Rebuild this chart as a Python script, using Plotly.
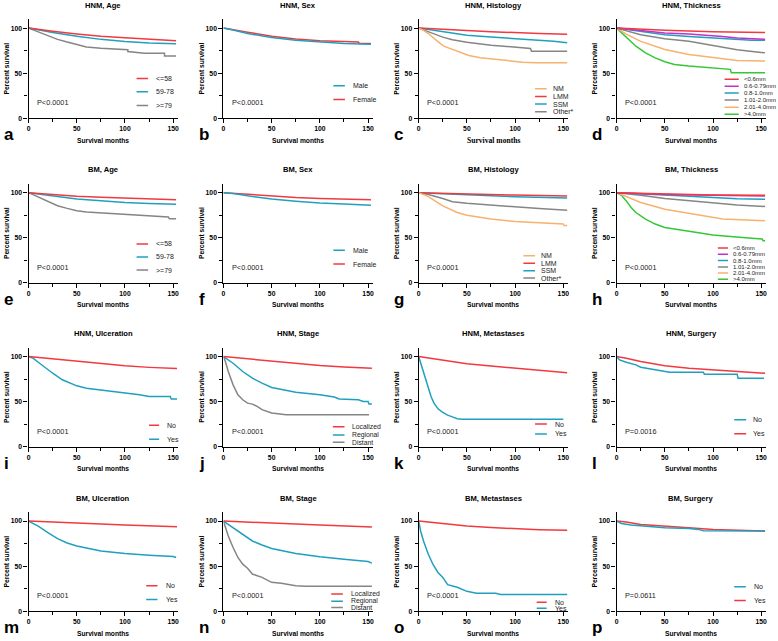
import plotly.graph_objects as go

# ---------------- data ----------------
RED = "#F2393F"
TEAL = "#1FA0BE"
GRAY = "#858585"
ORANGE = "#F6B26E"
MAGENTA = "#C62FC9"
GREEN = "#35C735"

# a: HNM, Age
a_le58_t = [0, 10, 25, 50, 75, 100, 125, 140, 153]
a_le58_s = [100, 98.5, 96.5, 93.6, 91, 89.3, 88, 87, 86]
a_5978_t = [0, 10, 25, 50, 75, 100, 125, 153]
a_5978_s = [100, 98, 95, 91, 87.5, 85.2, 83.5, 82.6]
a_ge79_t = [0, 10, 20, 30, 40, 50, 60, 75, 90, 100, 103, 103, 115, 120, 141, 141, 153]
a_ge79_s = [100, 96, 92, 87.5, 84.5, 81.5, 79, 77.5, 76.5, 76, 76, 74, 73, 72, 72, 69, 69]
# b: HNM, Sex
b_male_t = [0, 10, 25, 50, 75, 100, 125, 153]
b_male_s = [100, 98, 94, 89.5, 86.5, 84.5, 83, 82]
b_female_t = [0, 10, 25, 50, 75, 100, 125, 140, 141, 153]
b_female_s = [100, 98.5, 95.5, 91, 88, 86, 85, 84.5, 83, 83]
# c: HNM, Histology
c_nm_t = [0, 5, 10, 15, 20, 26, 33, 40, 52, 64, 81, 95, 108, 122, 154]
c_nm_s = [100, 97.5, 94, 89, 85, 80, 77, 74.5, 69.6, 67, 65.2, 63.3, 62.2, 61.5, 61.5]
c_lmm_t = [0, 25, 50, 75, 100, 125, 154]
c_lmm_s = [100, 99, 97.4, 96, 94.8, 94, 93.3]
c_ssm_t = [0, 10, 25, 50, 75, 100, 125, 140, 154]
c_ssm_s = [100, 98.5, 96, 92.2, 90, 88.5, 86.7, 85.5, 83.7]
c_oth_t = [0, 10, 25, 35, 50, 75, 100, 116, 117, 154]
c_oth_s = [100, 96, 90, 87, 84.4, 81, 78.5, 77.4, 74.4, 74.4]
# d: HNM, Thickness
d_t1_t = [0, 50, 100, 150, 154]
d_t1_s = [100, 97.5, 96, 95.2, 95.2]
d_t2_t = [0, 25, 50, 75, 100, 110, 125, 150, 154]
d_t2_s = [100, 97.5, 94.5, 93.5, 92, 90.8, 89, 87.5, 87.5]
d_t3_t = [0, 25, 50, 75, 100, 125, 140, 154]
d_t3_s = [100, 96.5, 92.7, 90.8, 89, 87.9, 86.4, 86.4]
d_t4_t = [0, 10, 25, 50, 75, 100, 115, 125, 150, 154]
d_t4_s = [100, 97, 92.7, 88.3, 85.3, 80.6, 78, 76, 73, 72.5]
d_t5_t = [0, 10, 25, 40, 50, 75, 100, 125, 154]
d_t5_s = [100, 93.4, 85.3, 79.9, 76.2, 70.7, 67, 64.1, 63.4]
d_t6_t = [0, 5, 10, 20, 30, 40, 50, 60, 75, 100, 118, 119, 154]
d_t6_s = [100, 95, 89, 79.9, 72.5, 67, 62.6, 59.7, 57.9, 56, 54.2, 50.5, 50.5]
# e: BM, Age
e_le58_t = [0, 25, 50, 75, 100, 125, 153]
e_le58_s = [100, 98, 96, 95, 94, 93, 92]
e_5978_t = [0, 10, 25, 50, 75, 100, 125, 153]
e_5978_s = [100, 98.5, 96, 93, 91, 89, 88, 87]
e_ge79_t = [0, 10, 20, 30, 40, 50, 60, 75, 100, 125, 145, 146, 153]
e_ge79_s = [100, 95, 90, 85.5, 82.5, 80, 78.5, 77.5, 76, 74, 73, 71, 71]
# f: BM, Sex
f_male_t = [0, 10, 25, 50, 75, 100, 125, 153]
f_male_s = [100, 99, 96.5, 93, 90.5, 88.5, 87.5, 86]
f_female_t = [0, 25, 50, 75, 100, 125, 153]
f_female_s = [100, 98, 96, 94.5, 93.5, 92.5, 92]
# g: BM, Histology
g_nm_t = [0, 10, 25, 40, 50, 75, 100, 125, 150, 151, 154]
g_nm_s = [100, 95.6, 85.3, 77.9, 75, 70.6, 68, 66.2, 65.1, 63.5, 63.5]
g_lmm_t = [0, 50, 100, 154]
g_lmm_s = [100, 98.5, 97.3, 96.3]
g_ssm_t = [0, 50, 100, 154]
g_ssm_s = [100, 97.5, 95.5, 94.1]
g_oth_t = [0, 10, 25, 35, 50, 75, 100, 125, 154]
g_oth_s = [100, 98, 93.4, 90, 88.2, 86, 84.2, 82.4, 80.5]
# h: BM, Thickness
h_t1_t = [0, 50, 100, 154]
h_t1_s = [100, 98.5, 97.5, 97]
h_t2_t = [0, 50, 100, 154]
h_t2_s = [100, 98, 97, 96.3]
h_t3_t = [0, 25, 50, 75, 100, 125, 154]
h_t3_s = [100, 99, 97.4, 96, 94.5, 93.3, 92.6]
h_t4_t = [0, 10, 25, 50, 75, 100, 125, 154]
h_t4_s = [100, 99, 97, 93.4, 90.8, 88.2, 86.4, 84.6]
h_t5_t = [0, 10, 25, 50, 75, 100, 110, 154]
h_t5_s = [100, 95.6, 89, 81.6, 77.2, 72.4, 70.6, 68.8]
h_t6_t = [0, 5, 10, 15, 20, 30, 40, 50, 75, 100, 115, 125, 140, 151, 152, 154]
h_t6_s = [100, 97, 90.8, 83.5, 77.9, 70.6, 65.1, 61.4, 57, 52.9, 51.5, 50.4, 49.3, 48.5, 46.7, 46.7]
# i: HNM, Ulceration
i_no_t = [0, 25, 50, 75, 100, 125, 154]
i_no_s = [100, 97.5, 94.5, 92, 89.7, 88, 86.7]
i_yes_t = [0, 5, 10, 20, 25, 35, 50, 60, 75, 100, 115, 125, 147, 148, 154]
i_yes_s = [100, 98, 93.7, 85.2, 81.5, 74.2, 67.5, 64.9, 63.1, 60.1, 57.6, 55.7, 55.7, 52.8, 52.8]
# j: HNM, Stage
j_loc_t = [0, 25, 50, 75, 100, 125, 154]
j_loc_s = [100, 97.5, 94.5, 92, 90, 88.5, 87.1]
j_reg_t = [0, 10, 20, 30, 40, 50, 75, 100, 115, 120, 140, 145, 150, 151, 154]
j_reg_s = [100, 92.6, 83.4, 76, 70.5, 65.7, 60.5, 57.6, 55, 52.8, 52, 50.2, 50.2, 47.2, 47.2]
j_dis_t = [0, 2, 5, 10, 15, 20, 25, 30, 35, 40, 50, 65, 151]
j_dis_s = [100, 94.5, 83.4, 68.6, 57.6, 52, 48.3, 47.2, 44.6, 41, 37.3, 35.4, 35.4]
# k: HNM, Metastases
k_no_t = [0, 25, 50, 75, 100, 125, 154]
k_no_s = [100, 96, 92, 89.5, 87, 84.5, 82]
k_yes_t = [0, 3, 6, 10, 13, 16, 20, 25, 30, 35, 40, 45, 150]
k_yes_s = [100, 90, 78, 65, 55, 48, 42, 38, 35, 33, 31, 30.5, 30.5]
# l: HNM, Surgery
l_no_t = [0, 3, 10, 20, 25, 35, 45, 55, 90, 91, 125, 126, 153]
l_no_s = [100, 96.3, 93.7, 90.8, 88.2, 86.3, 84.5, 82.7, 82.7, 80.4, 80.4, 76, 76]
l_yes_t = [0, 10, 25, 50, 75, 100, 125, 154]
l_yes_s = [100, 98.2, 94.5, 89.7, 87.1, 85.2, 83.4, 81.5]
# m: BM, Ulceration
m_no_t = [0, 50, 100, 154]
m_no_s = [100, 97.4, 95.6, 93.8]
m_yes_t = [0, 10, 20, 30, 40, 50, 75, 100, 125, 150, 153]
m_yes_s = [100, 94.5, 87.1, 80.5, 75.7, 72.4, 66.9, 64, 62.1, 60.7, 59.6]
# n: BM, Stage
n_loc_t = [0, 50, 100, 154]
n_loc_s = [100, 97.4, 95.6, 93.4]
n_reg_t = [0, 10, 20, 30, 40, 50, 75, 100, 125, 150, 154]
n_reg_s = [100, 92.6, 84.6, 77.9, 73.5, 69.5, 64, 60.3, 57.7, 55.1, 53.3]
n_dis_t = [0, 5, 10, 15, 20, 25, 30, 40, 50, 60, 75, 85, 154]
n_dis_s = [100, 83.5, 70.6, 59.6, 52.2, 47.7, 41.2, 37.5, 32, 30.9, 28.3, 27.6, 27.6]
# o: BM, Metastases
o_no_t = [0, 25, 50, 75, 100, 125, 154]
o_no_s = [100, 97, 94.5, 92.8, 91.5, 90.5, 89.7]
o_yes_t = [0, 2, 5, 8, 10, 15, 20, 25, 30, 40, 50, 60, 80, 85, 154]
o_yes_s = [100, 89, 77.9, 68.8, 63.2, 51.5, 43, 37.5, 29.4, 26.5, 22, 19.9, 19.9, 18.4, 18.4]
# p: BM, Surgery
p_no_t = [0, 5, 15, 40, 50, 75, 85, 90, 154]
p_no_s = [100, 97.4, 95.6, 93.4, 92.6, 91.9, 90.8, 89.3, 89]
p_yes_t = [0, 10, 25, 50, 75, 100, 125, 154]
p_yes_s = [100, 98.9, 96.3, 94.1, 92.6, 90.8, 90.1, 89]

letters = list("abcdefghijklmnop")
titles = ["HNM, Age", "HNM, Sex", "HNM, Histology", "HNM, Thickness",
          "BM, Age", "BM, Sex", "BM, Histology", "BM, Thickness",
          "HNM, Ulceration", "HNM, Stage", "HNM, Metastases", "HNM, Surgery",
          "BM, Ulceration", "BM, Stage", "BM, Metastases", "BM, Surgery"]
pvalues = ["P&lt;0.0001"] * 11 + ["P=0.0016"] + ["P&lt;0.0001"] * 3 + ["P=0.0611"]

age_lab = ["&lt;=58", "59-78", "&gt;=79"]
sex_lab = ["Male", "Female"]
hist_lab = ["NM", "LMM", "SSM", "Other*"]
thick_lab = ["&lt;0.6mm", "0.6-0.79mm", "0.8-1.0mm", "1.01-2.0mm", "2.01-4.0mm", "&gt;4.0mm"]
ny_lab = ["No", "Yes"]
stage_lab = ["Localized", "Regional", "Distant"]

# series per panel, in legend order: (label, colour, t, s)
series = [
    [(age_lab[0], RED, a_le58_t, a_le58_s), (age_lab[1], TEAL, a_5978_t, a_5978_s), (age_lab[2], GRAY, a_ge79_t, a_ge79_s)],
    [(sex_lab[0], TEAL, b_male_t, b_male_s), (sex_lab[1], RED, b_female_t, b_female_s)],
    [(hist_lab[0], ORANGE, c_nm_t, c_nm_s), (hist_lab[1], RED, c_lmm_t, c_lmm_s), (hist_lab[2], TEAL, c_ssm_t, c_ssm_s), (hist_lab[3], GRAY, c_oth_t, c_oth_s)],
    [(thick_lab[0], RED, d_t1_t, d_t1_s), (thick_lab[1], MAGENTA, d_t2_t, d_t2_s), (thick_lab[2], TEAL, d_t3_t, d_t3_s),
     (thick_lab[3], GRAY, d_t4_t, d_t4_s), (thick_lab[4], ORANGE, d_t5_t, d_t5_s), (thick_lab[5], GREEN, d_t6_t, d_t6_s)],
    [(age_lab[0], RED, e_le58_t, e_le58_s), (age_lab[1], TEAL, e_5978_t, e_5978_s), (age_lab[2], GRAY, e_ge79_t, e_ge79_s)],
    [(sex_lab[0], TEAL, f_male_t, f_male_s), (sex_lab[1], RED, f_female_t, f_female_s)],
    [(hist_lab[0], ORANGE, g_nm_t, g_nm_s), (hist_lab[1], RED, g_lmm_t, g_lmm_s), (hist_lab[2], TEAL, g_ssm_t, g_ssm_s), (hist_lab[3], GRAY, g_oth_t, g_oth_s)],
    [(thick_lab[0], RED, h_t1_t, h_t1_s), (thick_lab[1], MAGENTA, h_t2_t, h_t2_s), (thick_lab[2], TEAL, h_t3_t, h_t3_s),
     (thick_lab[3], GRAY, h_t4_t, h_t4_s), (thick_lab[4], ORANGE, h_t5_t, h_t5_s), (thick_lab[5], GREEN, h_t6_t, h_t6_s)],
    [(ny_lab[0], RED, i_no_t, i_no_s), (ny_lab[1], TEAL, i_yes_t, i_yes_s)],
    [(stage_lab[0], RED, j_loc_t, j_loc_s), (stage_lab[1], TEAL, j_reg_t, j_reg_s), (stage_lab[2], GRAY, j_dis_t, j_dis_s)],
    [(ny_lab[0], RED, k_no_t, k_no_s), (ny_lab[1], TEAL, k_yes_t, k_yes_s)],
    [(ny_lab[0], TEAL, l_no_t, l_no_s), (ny_lab[1], RED, l_yes_t, l_yes_s)],
    [(ny_lab[0], RED, m_no_t, m_no_s), (ny_lab[1], TEAL, m_yes_t, m_yes_s)],
    [(stage_lab[0], RED, n_loc_t, n_loc_s), (stage_lab[1], TEAL, n_reg_t, n_reg_s), (stage_lab[2], GRAY, n_dis_t, n_dis_s)],
    [(ny_lab[0], RED, o_no_t, o_no_s), (ny_lab[1], TEAL, o_yes_t, o_yes_s)],
    [(ny_lab[0], TEAL, p_no_t, p_no_s), (ny_lab[1], RED, p_yes_t, p_yes_s)],
]

# ---------------- layout (pixels) ----------------
W, H = 778, 641
COL_X0 = [26.7, 222.3, 418.3, 617.0]
ROW_Y0 = [118.7, 284.0, 448.7, 614.0]
PW, PH = 150.0, 99.5
FONT = "Liberation Sans, Arial, sans-serif"
SERIF = "Liberation Serif, Times New Roman, serif"

# legend placement per panel: (line x0, line x1, text x, [y per item], font size)
legend_pos = [
    (112, 124, 130, [44, 29.3, 14], 7),
    (114, 126, 132, [36, 20.7], 7),
    (120.7, 132.8, 137, [32.6, 24, 15.6, 7], 7),
    (112, 126.7, 130, [43.2, 35.5, 27.8, 20.1, 12.1, 4.4], 6),
    (112, 124, 130, [43, 28.6, 14], 7),
    (114, 126, 132, [36, 20.7], 7),
    (108.6, 120.7, 124.5, [30, 21.7, 13.2, 5.1], 7),
    (105, 115.5, 119, [38.6, 31.6, 24.6, 17.3, 10.7, 3.7], 6),
    (125, 135.4, 141.7, [23.6, 8.1], 7),
    (113.5, 125.6, 130.8, [22, 12.9, 4.8], 6.8),
    (120.7, 133, 139, [25, 14], 7),
    (122, 134.4, 139.6, [29.9, 14.4], 7),
    (122, 133.7, 140, [28.3, 12.9], 7),
    (111.8, 123.9, 129.8, [19.1, 11, 4], 6.8),
    (122.4, 132.8, 139, [9.9, 3.3], 7),
    (122, 134, 140, [27.2, 11.8], 7),
]

fig = go.Figure()
annotations = []
shapes = []
layout_axes = {}


def px(x):
    return x / W


def py(y):
    return 1 - y / H


for idx in range(16):
    r, c = divmod(idx, 4)
    n = idx + 1
    xname = "x" if n == 1 else f"x{n}"
    yname = "y" if n == 1 else f"y{n}"
    xkey = "xaxis" if n == 1 else f"xaxis{n}"
    ykey = "yaxis" if n == 1 else f"yaxis{n}"
    x0 = COL_X0[c]
    y0 = ROW_Y0[r]
    layout_axes[xkey] = dict(
        domain=[px(x0), px(x0 + PW)], range=[0, 155], anchor=yname,
        showline=True, linecolor="black", linewidth=1.3, showgrid=False, zeroline=False,
        tickvals=[0, 50, 100, 150], ticks="outside", ticklen=4, tickwidth=1.2, tickcolor="black",
        tickfont=dict(family=FONT, size=6.8, color="black", weight="bold"),
        minor=dict(tickvals=[25, 75, 125], ticks="outside", ticklen=3, tickwidth=1.2, tickcolor="black", showgrid=False),
        fixedrange=True,
    )
    layout_axes[ykey] = dict(
        domain=[py(y0), py(y0 - PH)], range=[0, 110], anchor=xname,
        showline=True, linecolor="black", linewidth=1.3, showgrid=False, zeroline=False,
        tickvals=[0, 50, 100], ticks="outside", ticklen=4, tickwidth=1.2, tickcolor="black",
        tickfont=dict(family=FONT, size=6.8, color="black", weight="bold"),
        minor=dict(tickvals=[25, 75], ticks="outside", ticklen=3, tickwidth=1.2, tickcolor="black", showgrid=False),
        fixedrange=True,
    )
    for label, color, t, s in series[idx][::-1]:
        fig.add_trace(go.Scatter(x=t, y=s, mode="lines", name=label, showlegend=False,
                                 line=dict(color=color, width=1.5), xaxis=xname, yaxis=yname,
                                 hoverinfo="skip"))
    # title
    annotations.append(dict(text=f"<b>{titles[idx]}</b>", xref="paper", yref="paper",
                            x=px(x0 + PW / 2), y=py(y0 - PH - 14), showarrow=False,
                            xanchor="center", yanchor="middle",
                            font=dict(family=FONT, size=7.6, color="black")))
    # x axis title (panel c uses a serif face in the reference)
    xt_font = dict(family=SERIF, size=7.6, color="black") if idx == 2 else dict(family=FONT, size=6.7, color="black")
    annotations.append(dict(text="<b>Survival months</b>", xref="paper", yref="paper",
                            x=px(x0 + 75), y=py(y0 + 22), showarrow=False,
                            xanchor="center", yanchor="middle", font=xt_font))
    # y axis title
    annotations.append(dict(text="<b>Percent survival</b>", xref="paper", yref="paper",
                            x=px(x0 - 22), y=py(y0 - 49.5), showarrow=False, textangle=-90,
                            xanchor="center", yanchor="middle",
                            font=dict(family=FONT, size=6.7, color="black")))
    # panel letter
    annotations.append(dict(text=f"<b>{letters[idx]}</b>", xref="paper", yref="paper",
                            x=px(x0 - 27), y=py(y0 + 16.5), showarrow=False,
                            xanchor="left", yanchor="middle",
                            font=dict(family=FONT, size=17, color="black")))
    # p value
    annotations.append(dict(text=pvalues[idx], xref=xname, yref=yname, x=7, y=17,
                            showarrow=False, xanchor="left", yanchor="middle",
                            font=dict(family=FONT, size=7.3, color="#222222")))
    # legend
    lx0, lx1, ltx, lys, lfs = legend_pos[idx]
    for (label, color, t, s), ly in zip(series[idx], lys):
        shapes.append(dict(type="line", xref=xname, yref=yname, x0=lx0, x1=lx1, y0=ly, y1=ly,
                           line=dict(color=color, width=1.5)))
        annotations.append(dict(text=label, xref=xname, yref=yname, x=ltx, y=ly,
                                showarrow=False, xanchor="left", yanchor="middle",
                                font=dict(family=FONT, size=lfs, color="#222222")))

fig.update_layout(
    width=W, height=H, margin=dict(l=0, r=0, t=0, b=0),
    paper_bgcolor="white", plot_bgcolor="white",
    showlegend=False, annotations=annotations, shapes=shapes,
    **layout_axes,
)

fig.write_html("out.html", config={"displayModeBar": False},
               post_script="document.body.style.margin='0';document.body.style.overflow='hidden';")
